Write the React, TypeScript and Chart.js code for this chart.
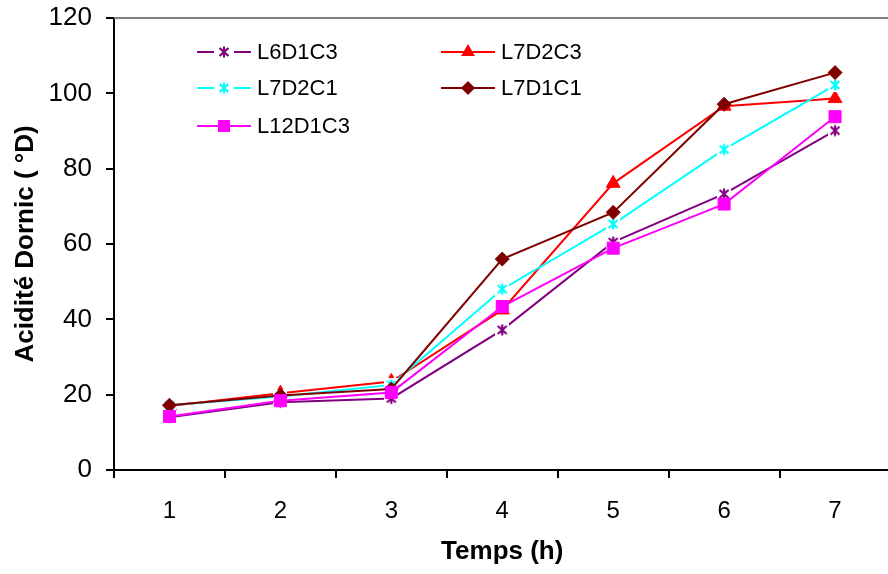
import React, { useEffect, useRef } from "react";
import { Chart, registerables } from "chart.js";

Chart.register(...registerables);

// ---- data ----
const categories = ["1", "2", "3", "4", "5", "6", "7"];
const seriesNames = ["L6D1C3", "L7D2C3", "L7D2C1", "L7D1C1", "L12D1C3"];
const l6d1c3 = [14, 18, 19, 37.2, 60.5, 73.3, 90.1];
const l7d2c3 = [17, 20.4, 23.5, 42.5, 76.1, 96.6, 98.6];
const l7d2c1 = [17.2, 19.5, 22.6, 48, 65.3, 85.1, 102.2];
const l7d1c1 = [17.2, 19.8, 21.5, 56, 68.4, 97.1, 105.5];
const l12d1c3 = [14.2, 18.4, 20.6, 43.4, 58.9, 70.6, 93.8];
const yMin = 0;
const yMax = 120;
const yStep = 20;
const xTitle = "Temps (h)";
const yTitle = "Acidité Dornic ( °D)";

const seriesValues = [l6d1c3, l7d2c3, l7d2c1, l7d1c1, l12d1c3];
const seriesColors = ["#800080", "#FF0000", "#00FFFF", "#800000", "#FF00FF"];
const seriesMarkers = ["asterisk", "triangle", "asterisk", "diamond", "square"];

const FONT = "'Liberation Sans', Arial, Helvetica, sans-serif";

function makeAsterisk(color: string): HTMLCanvasElement {
  const c = document.createElement("canvas");
  c.width = 14;
  c.height = 14;
  const g = c.getContext("2d")!;
  g.fillStyle = "#ffffff";
  g.fillRect(0, 0, 14, 14);
  g.strokeStyle = color;
  g.lineWidth = 2.2;
  g.lineCap = "butt";
  g.beginPath();
  g.moveTo(7, 1.5);
  g.lineTo(7, 12.5);
  g.moveTo(2.5, 3);
  g.lineTo(11.5, 11);
  g.moveTo(11.5, 3);
  g.lineTo(2.5, 11);
  g.stroke();
  return c;
}

function drawMarker(ctx: CanvasRenderingContext2D, kind: string, color: string, x: number, y: number, img?: HTMLCanvasElement) {
  ctx.save();
  ctx.fillStyle = color;
  ctx.strokeStyle = color;
  ctx.lineWidth = 1;
  if (kind === "asterisk" && img) {
    ctx.drawImage(img, x - img.width / 2, y - img.height / 2);
  } else if (kind === "diamond") {
    const r = 7;
    ctx.beginPath();
    ctx.moveTo(x - r, y);
    ctx.lineTo(x, y - r);
    ctx.lineTo(x + r, y);
    ctx.lineTo(x, y + r);
    ctx.closePath();
    ctx.fill();
  } else if (kind === "triangle") {
    const r = 8;
    ctx.beginPath();
    ctx.moveTo(x, y - r);
    ctx.lineTo(x + r * 0.866, y + r / 2);
    ctx.lineTo(x - r * 0.866, y + r / 2);
    ctx.closePath();
    ctx.fill();
  } else if (kind === "square") {
    const h = 6;
    ctx.fillRect(x - h, y - h, 2 * h, 2 * h);
  }
  ctx.restore();
}

export default function App() {
  const canvasRef = useRef<HTMLCanvasElement | null>(null);

  useEffect(() => {
    const canvas = canvasRef.current;
    if (!canvas) return;
    const asterisks: Record<string, HTMLCanvasElement> = {};
    seriesColors.forEach((c, i) => {
      if (seriesMarkers[i] === "asterisk") asterisks[c] = makeAsterisk(c);
    });

    const pointStyleFor = (i: number): any => {
      const m = seriesMarkers[i];
      if (m === "asterisk") return asterisks[seriesColors[i]];
      if (m === "diamond") return "rectRot";
      if (m === "triangle") return "triangle";
      return "rect";
    };
    const radiusFor = (i: number) => {
      const m = seriesMarkers[i];
      if (m === "diamond") return 7;
      if (m === "triangle") return 8;
      if (m === "square") return 8.5;
      return 7;
    };

    const datasets = seriesNames.map((name, i) => ({
      label: name,
      data: seriesValues[i],
      borderColor: seriesColors[i],
      backgroundColor: seriesColors[i],
      borderWidth: 2,
      pointStyle: pointStyleFor(i),
      pointRadius: radiusFor(i),
      pointBorderWidth: 1,
      pointBorderColor: seriesColors[i],
      pointBackgroundColor: seriesColors[i],
      tension: 0,
      fill: false,
      order: seriesNames.length - i,
    }));

    const legendCols = [
      { lineStart: 197, lineEnd: 251, text: 257 },
      { lineStart: 441, lineEnd: 495, text: 501 },
    ];
    const legendRows = [52, 88, 126];
    const legendPlacement = [
      [0, 0],
      [1, 0],
      [0, 1],
      [1, 1],
      [0, 2],
    ];

    const decor = {
      id: "decor",
      beforeDatasetsDraw(chart: any) {
        const { ctx, chartArea } = chart;
        ctx.save();
        ctx.strokeStyle = "#808080";
        ctx.lineWidth = 2;
        ctx.beginPath();
        ctx.moveTo(chartArea.left, chartArea.top);
        ctx.lineTo(chartArea.right, chartArea.top);
        ctx.stroke();
        ctx.restore();
      },
      afterDraw(chart: any) {
        const ctx: CanvasRenderingContext2D = chart.ctx;
        ctx.save();
        seriesNames.forEach((name, i) => {
          const [ci, ri] = legendPlacement[i];
          const col = legendCols[ci];
          const y = legendRows[ri];
          ctx.strokeStyle = seriesColors[i];
          ctx.lineWidth = 2;
          ctx.beginPath();
          ctx.moveTo(col.lineStart, y);
          ctx.lineTo(col.lineEnd, y);
          ctx.stroke();
          const mx = (col.lineStart + col.lineEnd) / 2;
          if (seriesMarkers[i] === "asterisk") {
            ctx.fillStyle = "#fff";
            ctx.fillRect(mx - 10, y - 4, 20, 8);
          }
          drawMarker(ctx, seriesMarkers[i], seriesColors[i], mx, y, asterisks[seriesColors[i]]);
          ctx.fillStyle = "#000";
          ctx.font = `22px ${FONT}`;
          ctx.textAlign = "left";
          ctx.textBaseline = "middle";
          ctx.fillText(name, col.text, y + 1);
        });
        ctx.restore();
      },
    };

    const chart = new Chart(canvas, {
      type: "line",
      data: { labels: categories, datasets: datasets as any },
      options: {
        animation: false,
        responsive: false,
        maintainAspectRatio: false,
        devicePixelRatio: 1,
        layout: { padding: { top: 18, right: 3, bottom: 0, left: 0 } },
        plugins: {
          legend: { display: false },
          tooltip: { enabled: false },
        },
        scales: {
          x: {
            type: "category",
            offset: true,
            grid: {
              offset: true,
              drawOnChartArea: false,
              drawTicks: true,
              tickLength: 8,
              color: "#000",
              lineWidth: 2,
            },
            border: { color: "#000", width: 2 },
            ticks: {
              color: "#000",
              font: { family: FONT, size: 24 },
              padding: 19,
              maxRotation: 0,
            },
            title: {
              display: true,
              text: xTitle,
              color: "#000",
              font: { family: FONT, size: 26, weight: "bold" },
              padding: { top: 0, bottom: 7 },
            },
            afterFit: (s: any) => {
              s.height = 104;
              s.paddingLeft = 0;
              s.paddingRight = 0;
            },
          },
          y: {
            min: yMin,
            max: yMax,
            grid: {
              drawOnChartArea: false,
              drawTicks: true,
              tickLength: 8,
              color: "#000",
              lineWidth: 2,
            },
            border: { color: "#000", width: 2 },
            ticks: {
              stepSize: yStep,
              color: "#000",
              font: { family: FONT, size: 26 },
              padding: 14,
            },
            title: {
              display: true,
              text: yTitle,
              color: "#000",
              font: { family: FONT, size: 26, weight: "bold" },
              padding: { top: 10, bottom: 0 },
            },
            afterFit: (s: any) => {
              s.width = 114;
              s.paddingTop = 0;
              s.paddingBottom = 0;
            },
          },
        },
      },
      plugins: [decor],
    });

    return () => {
      chart.destroy();
    };
  }, []);

  return (
    <div
      style={{
        position: "fixed",
        left: 0,
        top: 0,
        width: 888,
        height: 574,
        overflow: "hidden",
        background: "#fff",
      }}
    >
      <canvas ref={canvasRef} width={900} height={574} style={{ display: "block" }} />
    </div>
  );
}
